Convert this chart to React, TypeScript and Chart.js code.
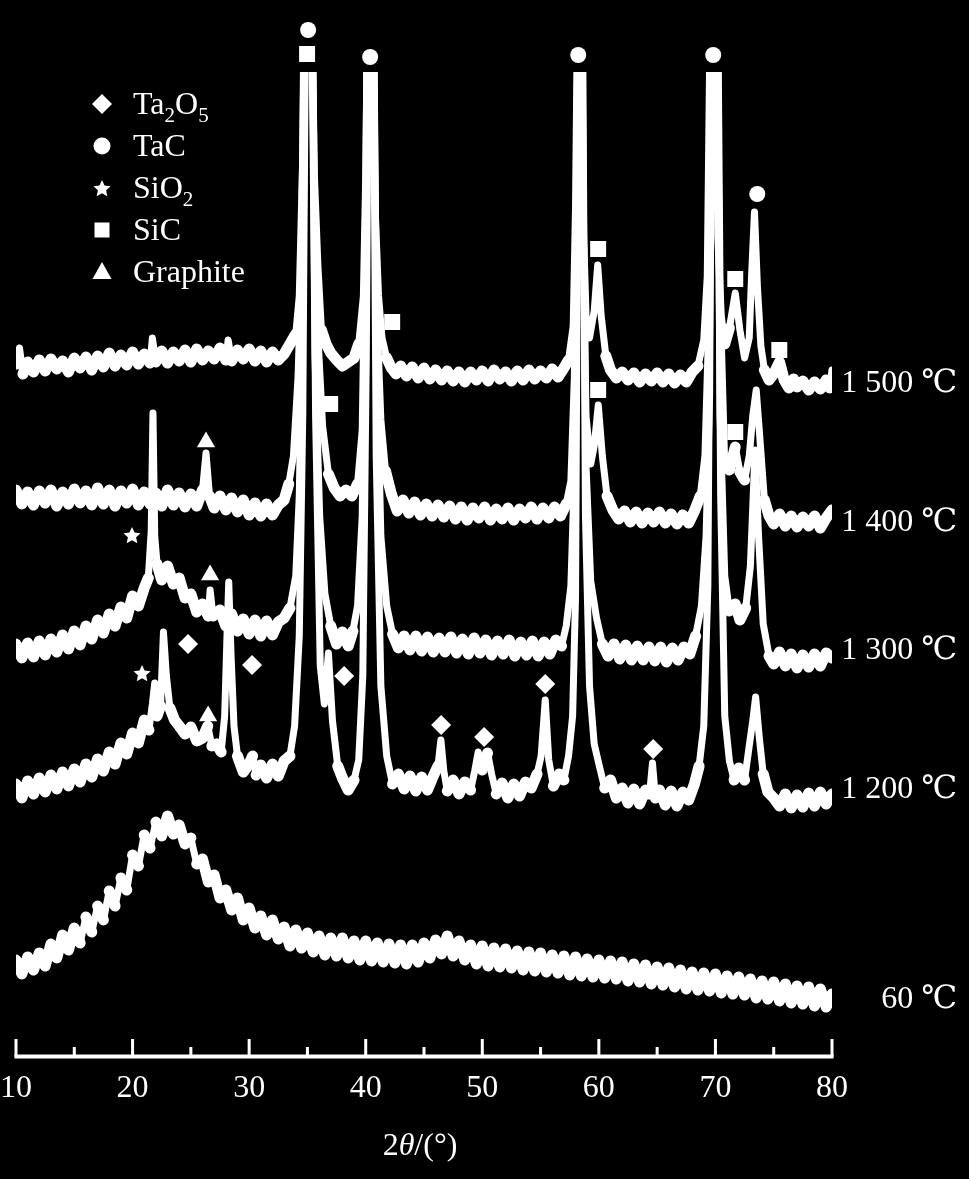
import React, { useEffect, useRef } from "react";
import { Chart, registerables } from "chart.js";
Chart.register(...registerables);

const FONT = "'Liberation Serif', 'Times New Roman', 'DejaVu Serif', serif";

// x axis (2θ, degrees)
const xTicks = [10, 20, 30, 40, 50, 60, 70, 80];
const xMinorTicks = [15, 25, 35, 45, 55, 65, 75];
// the original figure truncates the strongest reflections at this intensity
const displayCeiling = 984;

// Intensity (a.u., stacked traces): [2θ, intensity]
const t1500: number[][] = [
  [10.0, 690], [10.3, 708], [10.6, 682], [11.0, 694], [11.5, 684], [12.0, 696], [12.5, 685], [13.0, 697], [13.5, 687],
  [14.0, 695], [14.5, 684], [15.0, 698], [15.5, 688], [16.0, 699], [16.5, 686], [17.0, 700], [17.5, 689], [18.0, 703],
  [18.5, 690], [19.0, 701], [19.5, 691], [20.0, 704], [20.5, 692], [21.0, 702], [21.5, 693], [21.7, 718], [22.0, 694],
  [22.5, 705], [23.0, 693], [23.5, 704], [24.0, 695], [24.5, 706], [25.0, 694], [25.5, 707], [26.0, 696], [26.5, 705],
  [27.0, 697], [27.5, 708], [28.0, 696], [28.2, 716], [28.5, 695], [29.0, 706], [29.5, 697], [30.0, 707], [30.5, 695],
  [31.0, 705], [31.5, 694], [32.0, 704], [32.5, 696], [33.0, 702], [33.5, 712], [34.0, 722], [34.3, 760], [34.6, 900],
  [34.85, 1150], [35.25, 1150], [35.6, 880], [35.9, 790], [36.2, 726], [36.6, 712], [37.0, 703], [37.5, 696], [38.0, 690],
  [38.5, 694], [39.0, 698], [39.4, 712], [39.8, 760], [40.0, 880], [40.25, 1150], [40.5, 1150], [40.8, 850], [41.1, 760],
  [41.4, 718], [41.8, 698], [42.2, 688], [42.6, 682], [43.0, 690], [43.5, 680], [44.0, 689], [44.5, 678], [45.0, 688],
  [45.5, 677], [46.0, 686], [46.5, 676], [47.0, 685], [47.5, 675], [48.0, 684], [48.5, 674], [49.0, 684], [49.5, 676],
  [50.0, 685], [50.5, 675], [51.0, 686], [51.5, 677], [52.0, 684], [52.5, 675], [53.0, 685], [53.5, 676], [54.0, 686],
  [54.5, 677], [55.0, 685], [55.5, 678], [56.0, 687], [56.5, 679], [57.0, 688], [57.4, 696], [57.8, 730], [58.0, 850],
  [58.25, 1150], [58.45, 1150], [58.7, 820], [58.9, 740], [59.2, 718], [59.6, 745], [59.9, 791], [60.2, 740], [60.6, 700],
  [61.0, 686], [61.5, 678], [62.0, 684], [62.5, 676], [63.0, 683], [63.5, 674], [64.0, 682], [64.5, 675], [65.0, 683],
  [65.5, 674], [66.0, 682], [66.5, 673], [67.0, 681], [67.5, 674], [68.0, 684], [68.5, 690], [69.0, 716], [69.3, 780],
  [69.65, 1150], [69.95, 1150], [70.2, 820], [70.5, 740], [70.8, 712], [71.2, 728], [71.7, 763], [72.1, 726], [72.5, 698],
  [72.9, 718], [73.1, 780], [73.35, 844], [73.6, 770], [73.9, 710], [74.2, 686], [74.6, 676], [75.0, 682], [75.5, 694],
  [75.9, 676], [76.3, 668], [76.7, 677], [77.0, 669], [77.5, 675], [78.0, 666], [78.5, 674], [79.0, 667], [79.5, 676],
  [79.8, 668], [80.0, 686],
];

const t1400: number[][] = [
  [10.0, 566], [10.5, 552], [11.0, 564], [11.5, 551], [12.0, 565], [12.5, 553], [13.0, 566], [13.5, 550], [14.0, 564],
  [14.5, 552], [15.0, 567], [15.5, 553], [16.0, 565], [16.5, 551], [17.0, 568], [17.5, 552], [18.0, 566], [18.5, 550],
  [19.0, 565], [19.5, 553], [20.0, 567], [20.5, 551], [21.0, 564], [21.5, 552], [22.0, 563], [22.5, 550], [23.0, 566],
  [23.5, 551], [24.0, 563], [24.5, 549], [25.0, 562], [25.5, 550], [26.0, 566], [26.3, 603], [26.6, 560], [27.0, 548],
  [27.5, 560], [28.0, 546], [28.5, 558], [29.0, 544], [29.5, 556], [30.0, 541], [30.5, 553], [31.0, 540], [31.5, 552],
  [32.0, 541], [32.5, 551], [33.0, 556], [33.4, 572], [33.8, 600], [34.2, 680], [34.5, 800], [34.8, 1150], [35.3, 1150],
  [35.6, 850], [35.9, 720], [36.3, 630], [36.8, 582], [37.3, 568], [37.8, 560], [38.3, 566], [38.8, 560], [39.3, 572],
  [39.7, 626], [40.0, 850], [40.2, 1150], [40.6, 1150], [40.9, 760], [41.3, 636], [41.7, 585], [42.2, 562], [42.7, 545],
  [43.2, 556], [43.7, 543], [44.2, 554], [44.7, 541], [45.2, 552], [45.7, 540], [46.2, 551], [46.7, 539], [47.2, 550],
  [47.7, 537], [48.2, 549], [48.7, 536], [49.2, 548], [49.7, 538], [50.2, 549], [50.7, 536], [51.2, 547], [51.7, 537],
  [52.2, 548], [52.7, 536], [53.2, 547], [53.7, 538], [54.2, 549], [54.7, 537], [55.2, 548], [55.7, 538], [56.2, 549],
  [56.7, 540], [57.2, 552], [57.6, 575], [57.9, 680], [58.1, 900], [58.35, 1200], [58.6, 880], [58.9, 640], [59.3, 592],
  [59.6, 610], [59.95, 651], [60.3, 600], [60.7, 560], [61.2, 546], [61.7, 537], [62.2, 545], [62.7, 534], [63.2, 544],
  [63.7, 533], [64.2, 543], [64.7, 534], [65.2, 544], [65.7, 533], [66.2, 542], [66.7, 532], [67.2, 541], [67.7, 533],
  [68.2, 545], [68.7, 560], [69.1, 600], [69.5, 760], [69.8, 1200], [70.1, 1200], [70.4, 760], [70.8, 590], [71.2, 586],
  [71.7, 609], [72.1, 584], [72.5, 576], [72.9, 600], [73.2, 640], [73.5, 666], [73.8, 620], [74.2, 556], [74.6, 540],
  [75.0, 532], [75.5, 542], [76.0, 530], [76.5, 540], [77.0, 529], [77.5, 539], [78.0, 530], [78.5, 540], [79.0, 528],
  [79.5, 538], [80.0, 546],
];

const t1300: number[][] = [
  [10.0, 412], [10.5, 398], [11.0, 413], [11.5, 399], [12.0, 415], [12.5, 401], [13.0, 417], [13.5, 404], [14.0, 421],
  [14.5, 407], [15.0, 425], [15.5, 411], [16.0, 430], [16.5, 417], [17.0, 436], [17.5, 423], [18.0, 442], [18.5, 430],
  [19.0, 449], [19.5, 438], [20.0, 460], [20.5, 450], [21.0, 468], [21.35, 478], [21.6, 525], [21.75, 643], [21.9, 520],
  [22.1, 492], [22.5, 476], [23.0, 490], [23.5, 472], [24.0, 478], [24.5, 458], [25.0, 462], [25.5, 444], [26.0, 452],
  [26.5, 440], [26.65, 466], [26.9, 440], [27.5, 446], [28.0, 430], [28.5, 442], [29.0, 425], [29.5, 437], [30.0, 422],
  [30.5, 436], [31.0, 420], [31.5, 435], [32.0, 421], [32.5, 434], [33.0, 438], [33.5, 448], [34.0, 480], [34.3, 560],
  [34.6, 760], [34.9, 1150], [35.3, 1150], [35.65, 700], [36.05, 540], [36.5, 462], [37.0, 430], [37.5, 412], [38.0, 424],
  [38.5, 410], [38.9, 425], [39.3, 450], [39.7, 540], [40.0, 800], [40.25, 1150], [40.6, 1150], [40.9, 720], [41.3, 520],
  [41.8, 450], [42.3, 422], [42.8, 408], [43.3, 420], [43.8, 406], [44.3, 420], [44.8, 405], [45.3, 419], [45.8, 404],
  [46.3, 418], [46.8, 404], [47.3, 419], [47.8, 403], [48.3, 417], [48.8, 402], [49.3, 418], [49.8, 403], [50.3, 416],
  [50.8, 401], [51.3, 415], [51.8, 402], [52.3, 416], [52.8, 400], [53.3, 414], [53.8, 401], [54.3, 415], [54.8, 400],
  [55.3, 414], [55.8, 402], [56.3, 416], [56.8, 410], [57.2, 430], [57.6, 470], [57.95, 600], [58.15, 900], [58.35, 1150],
  [58.6, 900], [58.9, 590], [59.3, 475], [59.8, 438], [60.3, 412], [60.8, 400], [61.3, 412], [61.8, 397], [62.3, 411],
  [62.8, 396], [63.3, 410], [63.8, 396], [64.3, 409], [64.8, 395], [65.3, 409], [65.8, 394], [66.3, 408], [66.8, 396],
  [67.3, 409], [67.8, 402], [68.3, 420], [68.8, 450], [69.2, 520], [69.5, 660], [69.75, 1150], [70.1, 1150], [70.4, 640],
  [70.8, 480], [71.2, 445], [71.7, 452], [72.1, 436], [72.6, 448], [73.0, 490], [73.4, 606], [73.7, 520], [74.1, 432],
  [74.6, 400], [75.0, 392], [75.5, 404], [76.0, 390], [76.5, 402], [77.0, 388], [77.5, 401], [78.0, 389], [78.5, 402],
  [79.0, 390], [79.5, 403], [80.0, 398],
];

const t1200: number[][] = [
  [10.0, 272], [10.5, 258], [11.0, 275], [11.5, 262], [12.0, 278], [12.5, 264], [13.0, 281], [13.5, 267], [14.0, 284],
  [14.5, 270], [15.0, 287], [15.5, 274], [16.0, 292], [16.5, 279], [17.0, 297], [17.5, 285], [18.0, 304], [18.5, 292],
  [19.0, 313], [19.5, 302], [20.0, 323], [20.5, 313], [21.0, 336], [21.4, 326], [21.7, 352], [21.9, 373], [22.1, 340],
  [22.4, 350], [22.65, 424], [22.9, 380], [23.2, 348], [23.6, 336], [24.0, 330], [24.5, 322], [25.0, 329], [25.5, 315],
  [26.0, 318], [26.45, 330], [26.8, 310], [27.2, 312], [27.6, 304], [27.9, 340], [28.1, 420], [28.25, 474], [28.45, 400],
  [28.7, 330], [29.0, 300], [29.5, 284], [30.0, 292], [30.3, 300], [30.6, 281], [31.0, 291], [31.5, 278], [32.0, 292],
  [32.5, 280], [33.0, 295], [33.5, 300], [33.9, 330], [34.3, 420], [34.6, 640], [34.9, 1150], [35.35, 1150], [35.7, 640],
  [36.1, 390], [36.45, 352], [36.8, 403], [37.15, 335], [37.6, 290], [38.0, 278], [38.5, 266], [39.0, 276], [39.4, 296],
  [39.75, 380], [40.05, 700], [40.3, 1150], [40.6, 1150], [40.9, 600], [41.3, 370], [41.8, 300], [42.3, 272], [42.8, 282],
  [43.3, 267], [43.8, 280], [44.3, 265], [44.8, 279], [45.3, 266], [45.8, 280], [46.2, 290], [46.45, 316], [46.7, 285],
  [47.0, 265], [47.5, 276], [48.0, 262], [48.5, 274], [49.0, 266], [49.35, 285], [49.65, 304], [50.0, 286], [50.45, 303],
  [50.8, 282], [51.2, 262], [51.7, 273], [52.2, 258], [52.7, 272], [53.2, 260], [53.7, 274], [54.2, 268], [54.7, 282],
  [55.05, 300], [55.4, 356], [55.7, 296], [56.1, 270], [56.6, 282], [57.0, 276], [57.4, 300], [57.75, 340], [58.0, 460],
  [58.3, 1150], [58.55, 1150], [58.85, 540], [59.2, 370], [59.6, 312], [60.0, 292], [60.5, 268], [61.0, 276], [61.5, 258],
  [62.0, 268], [62.5, 253], [63.0, 267], [63.5, 252], [64.0, 266], [64.35, 262], [64.6, 293], [64.85, 258], [65.2, 266],
  [65.7, 251], [66.2, 265], [66.7, 250], [67.2, 264], [67.7, 256], [68.2, 272], [68.6, 290], [69.0, 330], [69.35, 470],
  [69.75, 1150], [70.1, 1150], [70.45, 560], [70.8, 340], [71.2, 295], [71.6, 276], [72.0, 288], [72.5, 276], [72.9, 310],
  [73.2, 335], [73.45, 359], [73.75, 320], [74.1, 282], [74.5, 264], [75.0, 258], [75.5, 250], [76.0, 262], [76.5, 248],
  [77.0, 261], [77.5, 249], [78.0, 263], [78.5, 250], [79.0, 264], [79.5, 252], [80.0, 262],
];

const t60: number[][] = [
  [10.0, 96], [10.5, 82], [11.0, 99], [11.5, 86], [12.0, 103], [12.5, 90], [13.0, 112], [13.5, 98], [14.0, 121],
  [14.5, 106], [15.0, 128], [15.5, 113], [16.0, 139], [16.5, 124], [17.0, 150], [17.5, 136], [18.0, 165], [18.5, 150],
  [19.0, 178], [19.5, 166], [20.0, 201], [20.5, 190], [21.0, 221], [21.5, 208], [22.0, 234], [22.5, 220], [23.0, 240],
  [23.5, 222], [24.0, 231], [24.5, 212], [25.0, 218], [25.5, 192], [26.0, 197], [26.5, 174], [27.0, 181], [27.5, 158],
  [28.0, 166], [28.5, 146], [29.0, 158], [29.5, 136], [30.0, 148], [30.5, 128], [31.0, 140], [31.5, 121], [32.0, 136],
  [32.5, 117], [33.0, 129], [33.5, 110], [34.0, 126], [34.5, 108], [35.0, 123], [35.5, 104], [36.0, 120], [36.5, 101],
  [37.0, 118], [37.5, 100], [38.0, 118], [38.5, 98], [39.0, 115], [39.5, 96], [40.0, 115], [40.5, 95], [41.0, 113],
  [41.5, 94], [42.0, 112], [42.5, 93], [43.0, 111], [43.5, 92], [44.0, 111], [44.5, 94], [45.0, 113], [45.5, 98],
  [46.0, 116], [46.5, 102], [47.0, 120], [47.5, 100], [48.0, 115], [48.5, 96], [49.0, 111], [49.5, 92], [50.0, 110],
  [50.5, 90], [51.0, 108], [51.5, 89], [52.0, 107], [52.5, 88], [53.0, 105], [53.5, 86], [54.0, 104], [54.5, 85],
  [55.0, 103], [55.5, 84], [56.0, 101], [56.5, 83], [57.0, 100], [57.5, 81], [58.0, 99], [58.5, 80], [59.0, 97],
  [59.5, 79], [60.0, 96], [60.5, 78], [61.0, 95], [61.5, 77], [62.0, 94], [62.5, 75], [63.0, 92], [63.5, 74],
  [64.0, 91], [64.5, 72], [65.0, 89], [65.5, 71], [66.0, 88], [66.5, 69], [67.0, 86], [67.5, 67], [68.0, 84],
  [68.5, 66], [69.0, 83], [69.5, 65], [70.0, 82], [70.5, 63], [71.0, 80], [71.5, 62], [72.0, 79], [72.5, 61],
  [73.0, 77], [73.5, 58], [74.0, 75], [74.5, 57], [75.0, 74], [75.5, 55], [76.0, 72], [76.5, 53], [77.0, 70],
  [77.5, 52], [78.0, 69], [78.5, 50], [79.0, 67], [79.5, 49], [80.0, 62],
];

const traces = [t1500, t1400, t1300, t1200, t60];
const traceLabels = ["1 500 ℃", "1 400 ℃", "1 300 ℃", "1 200 ℃", "60 ℃"];
const traceLabelLevels = [672, 533, 405, 266, 56];

// Phase markers [2θ, intensity]
const ta2o5Marks = [[24.76, 412], [30.25, 391], [38.15, 380], [46.47, 331], [50.16, 319], [55.4, 372], [64.66, 307]];
const tacMarks = [[35.06, 1026], [40.38, 999], [58.23, 1001], [69.81, 1001], [73.59, 862]];
const sio2Marks = [[19.95, 521], [20.81, 383]];
const sicMarks = [[34.97, 1002], [42.27, 734], [36.95, 652], [59.94, 807], [59.94, 666], [71.7, 777], [71.7, 624], [75.48, 706]];
const graphiteMarks = [[26.3, 614], [26.65, 481], [26.48, 340]];

const legendItems: [string, boolean][][] = [
  [["Ta", false], ["2", true], ["O", false], ["5", true]],
  [["TaC", false]],
  [["SiO", false], ["2", true]],
  [["SiC", false]],
  [["Graphite", false]],
];
const legendStyles = ["rectRot", "circle", "star", "rect", "triangle"];

function makeStar(r: number): HTMLCanvasElement {
  const s = Math.ceil(r * 2) + 2;
  const c = document.createElement("canvas");
  c.width = s;
  c.height = s;
  const g = c.getContext("2d")!;
  g.fillStyle = "#fff";
  g.beginPath();
  for (let i = 0; i < 10; i++) {
    const a = -Math.PI / 2 + (i * Math.PI) / 5;
    const rr = i % 2 === 0 ? r : r * 0.48;
    g.lineTo(s / 2 + rr * Math.cos(a), s / 2 + 1 + rr * Math.sin(a));
  }
  g.closePath();
  g.fill();
  return c;
}

function drawSymbol(ctx: CanvasRenderingContext2D, style: string, x: number, y: number, star: HTMLCanvasElement) {
  ctx.save();
  ctx.fillStyle = "#fff";
  ctx.beginPath();
  if (style === "rectRot") {
    const r = 10;
    ctx.moveTo(x - r, y); ctx.lineTo(x, y - r); ctx.lineTo(x + r, y); ctx.lineTo(x, y + r); ctx.closePath(); ctx.fill();
  } else if (style === "circle") {
    ctx.arc(x, y, 8.5, 0, Math.PI * 2); ctx.fill();
  } else if (style === "rect") {
    ctx.rect(x - 7.5, y - 7.5, 15, 15); ctx.fill();
  } else if (style === "triangle") {
    ctx.moveTo(x, y - 10); ctx.lineTo(x + 9.5, y + 7); ctx.lineTo(x - 9.5, y + 7); ctx.closePath(); ctx.fill();
  } else if (style === "star") {
    ctx.drawImage(star, x - star.width / 2, y - star.height / 2);
  }
  ctx.restore();
}

export default function App() {
  const ref = useRef<HTMLCanvasElement | null>(null);
  useEffect(() => {
    if (!ref.current) return;
    const star = makeStar(9);
    const toXY = (a: number[][]) => a.map(([x, y]) => ({ x, y }));
    const yMax = 1056;
    const traceSets = traces.map((t, i) => ({
      type: "line" as const,
      label: traceLabels[i],
      data: toXY(t),
      borderColor: "#fff",
      borderWidth: 11,
      pointRadius: 0,
      tension: 0,
      borderJoinStyle: "round" as const,
      borderCapStyle: "round" as const,
      segment: {
        borderWidth: (c: any) => {
          const dx = Math.abs(c.p1.x - c.p0.x) || 0.001;
          const dy = Math.abs(c.p1.y - c.p0.y);
          return dy / dx > 4 ? 7 : 11;
        },
      },
      clip: { left: 0, top: -(yMax - displayCeiling), right: 0, bottom: 6 },
    }));
    const mk = (label: string, data: number[][], pointStyle: any, radius: number) => ({
      type: "scatter" as const,
      label,
      data: toXY(data),
      pointStyle,
      pointRadius: radius,
      backgroundColor: "#fff",
      borderColor: "#fff",
      borderWidth: 0,
      showLine: false,
      clip: false as const,
    });
    const markerSets = [
      mk("Ta2O5", ta2o5Marks, "rectRot", 10),
      mk("TaC", tacMarks, "circle", 8),
      mk("SiO2", sio2Marks, star, 9),
      mk("SiC", sicMarks, "rect", 11.3),
      mk("Graphite", graphiteMarks, "triangle", 10.5),
    ];

    const decor = {
      id: "decor",
      afterDraw(chart: any) {
        const ctx: CanvasRenderingContext2D = chart.ctx;
        const xs = chart.scales.x;
        const ys = chart.scales.y;
        const bottom = chart.chartArea.bottom;
        ctx.save();
        ctx.fillStyle = "#fff";
        // axis line with inward ticks
        const x0 = xs.getPixelForValue(10);
        const x1 = xs.getPixelForValue(80);
        ctx.fillRect(x0 - 1.5, bottom - 1.5, x1 - x0 + 3, 4);
        xTicks.forEach((v) => {
          const px = xs.getPixelForValue(v);
          ctx.fillRect(px - 1.5, bottom - 17, 3, 18);
        });
        xMinorTicks.forEach((v) => {
          const px = xs.getPixelForValue(v);
          ctx.fillRect(px - 1.5, bottom - 9, 3, 10);
        });
        // trace labels on the right
        ctx.font = `32px ${FONT}`;
        ctx.textAlign = "right";
        ctx.textBaseline = "middle";
        traceLabels.forEach((t, i) => {
          ctx.fillText(t, 957, ys.getPixelForValue(traceLabelLevels[i]));
        });
        // x title 2θ/(°)
        ctx.textAlign = "left";
        ctx.textBaseline = "alphabetic";
        const parts: [string, string][] = [["2", `32px ${FONT}`], ["θ", `italic 32px ${FONT}`], ["/(°)", `32px ${FONT}`]];
        let total = 0;
        parts.forEach(([s, f]) => { ctx.font = f; total += ctx.measureText(s).width; });
        let cx = (x0 + x1) / 2 - 4 - total / 2;
        parts.forEach(([s, f]) => { ctx.font = f; ctx.fillText(s, cx, 1155); cx += ctx.measureText(s).width; });
        // legend
        const rowBase = [114, 156, 198, 240, 282];
        legendItems.forEach((segs, i) => {
          drawSymbol(ctx, legendStyles[i], 102, rowBase[i] - 10, star);
          let tx = 133;
          segs.forEach(([s, sub]) => {
            ctx.font = sub ? `21px ${FONT}` : `32px ${FONT}`;
            ctx.fillText(s, tx, rowBase[i] + (sub ? 8 : 0));
            tx += ctx.measureText(s).width;
          });
        });
        ctx.restore();
      },
    };

    const chart = new Chart(ref.current, {
      type: "line",
      data: { datasets: [...traceSets, ...markerSets] as any },
      options: {
        animation: false,
        responsive: false,
        events: [],
        layout: { padding: { left: 16, right: 137, top: 0, bottom: 0 }, autoPadding: false },
        plugins: { legend: { display: false }, tooltip: { enabled: false } },
        scales: {
          x: {
            type: "linear",
            min: 10,
            max: 80,
            grid: { display: false, drawTicks: true, tickLength: 13 },
            border: { display: false },
            afterBuildTicks: (s: any) => { s.ticks = xTicks.map((v) => ({ value: v })); },
            afterFit: (s: any) => { s.height = 123; },
            ticks: {
              color: "#fff",
              font: { family: FONT, size: 32 },
              padding: 0,
              autoSkip: false,
              maxRotation: 0,
              callback: (v: any) => String(v),
            },
          },
          y: { display: false, min: 0, max: yMax },
        },
      },
      plugins: [decor],
    });
    return () => chart.destroy();
  }, []);

  return (
    <div style={{ position: "fixed", left: 0, top: 0, width: 969, height: 1179, background: "#000" }}>
      <canvas ref={ref} width={969} height={1179} style={{ display: "block", width: 969, height: 1179 }} />
    </div>
  );
}
